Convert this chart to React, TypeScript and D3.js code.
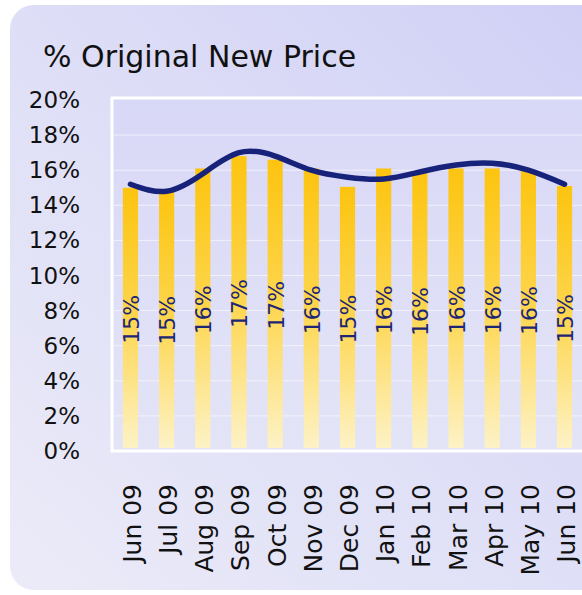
import React from "react";
import * as d3 from "d3";

const months = ["Jun 09","Jul 09","Aug 09","Sep 09","Oct 09","Nov 09","Dec 09","Jan 10","Feb 10","Mar 10","Apr 10","May 10","Jun 10"];
const barValues = [15.0, 14.9, 16.1, 16.8, 16.6, 16.1, 15.05, 16.1, 15.9, 16.1, 16.1, 16.0, 15.1];
const barLabels = ["15%","15%","16%","17%","17%","16%","15%","16%","16%","16%","16%","16%","15%"];
const trendValues = [15.2, 14.8, 15.8, 17.0, 16.8, 16.0, 15.6, 15.5, 15.9, 16.3, 16.4, 16.0, 15.2];
const yTicks = [0, 2, 4, 6, 8, 10, 12, 14, 16, 18, 20];

const W = 582, H = 595;
const FONT = "'DejaVu Sans', Verdana, sans-serif";

export default function App() {
  const x = d3.scaleBand<string>().domain(months).range([112, 583]).paddingInner(0.58).paddingOuter(0.3);
  const y = d3.scaleLinear().domain([0, 20]).range([451, 100]);
  const cx = (m: string) => (x(m) as number) + x.bandwidth() / 2;
  const line = d3.line<number>()
    .x((_, i) => cx(months[i]))
    .y((d) => y(d))
    .curve(d3.curveNatural);

  return (
    <svg width={W} height={H} style={{ position: "absolute", left: 0, top: 0 }}>
      <defs>
        <linearGradient id="panel" x1="0" y1="1" x2="1" y2="0">
          <stop offset="0" stopColor="#ebebf8" />
          <stop offset="0.5" stopColor="#dedef7" />
          <stop offset="1" stopColor="#cfcff6" />
        </linearGradient>
        <linearGradient id="plot" x1="0" y1="0" x2="0" y2="1">
          <stop offset="0" stopColor="#d8d8f7" />
          <stop offset="1" stopColor="#e4e4f7" />
        </linearGradient>
        <linearGradient id="bar" x1="0" y1="0" x2="0" y2="1">
          <stop offset="0" stopColor="#fdc40f" />
          <stop offset="0.5" stopColor="#fdd64f" />
          <stop offset="1" stopColor="#fdf2c6" />
        </linearGradient>
      </defs>
      <rect x={0} y={0} width={W} height={H} fill="#ffffff" />
      <rect x={10} y={5} width={620} height={585} rx={24} fill="url(#panel)" />
      <text x={43} y={67} fontFamily={FONT} fontSize={30} fill="#111">% Original New Price</text>
      <rect x={112} y={98} width={490} height={353} fill="url(#plot)" stroke="#ffffff" strokeWidth={3} />
      {yTicks.slice(1, -1).map((t) => (
        <line key={"g" + t} x1={114} x2={W} y1={y(t)} y2={y(t)} stroke="#ffffff" strokeOpacity={0.6} strokeWidth={1} />
      ))}
      {yTicks.map((t) => (
        <text key={"t" + t} x={80} y={y(t)} textAnchor="end" dominantBaseline="central" fontFamily={FONT} fontSize={23} fill="#111">{t}%</text>
      ))}
      {months.map((m, i) => (
        <rect key={"b" + m} x={x(m)} y={y(barValues[i])} width={x.bandwidth()} height={y(0) - y(barValues[i]) - 3} fill="url(#bar)" />
      ))}
      {months.map((m, i) => {
        const my = (y(barValues[i]) + y(0)) / 2;
        return (
          <text key={"v" + m} transform={`translate(${cx(m) + 1},${my}) rotate(-90)`} textAnchor="middle" dominantBaseline="central" fontFamily={FONT} fontSize={22} fill="#1c2675">{barLabels[i]}</text>
        );
      })}
      <path d={line(trendValues) || ""} fill="none" stroke="#17227a" strokeWidth={5.5} strokeLinecap="round" />
      {months.map((m) => (
        <text key={"x" + m} transform={`translate(${cx(m) + 2},484) rotate(-90)`} textAnchor="end" dominantBaseline="central" fontFamily={FONT} fontSize={25} fill="#111">{m}</text>
      ))}
    </svg>
  );
}
